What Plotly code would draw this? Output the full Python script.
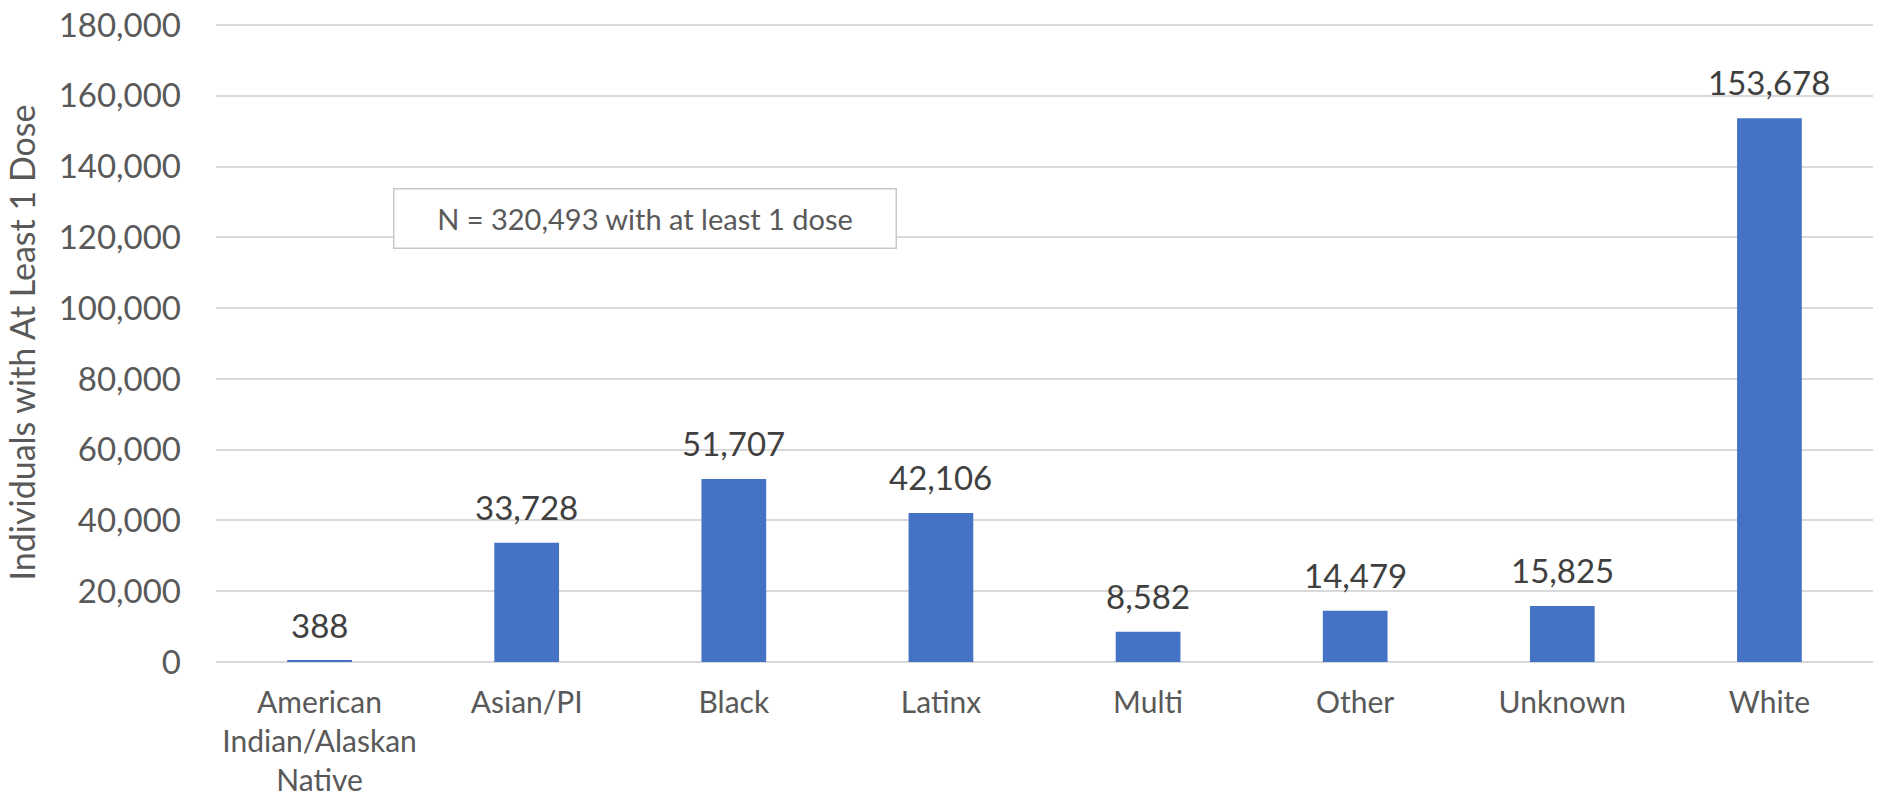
import plotly.graph_objects as go

# ── Data ──────────────────────────────────────────────────────────────────────

categories = [
    "American<br>Indian/Alaskan<br>Native",
    "Asian/PI",
    "Black",
    "Latinx",
    "Multi",
    "Other",
    "Unknown",
    "White",
]
doses = [388, 33728, 51707, 42106, 8582, 14479, 15825, 153678]
y_ticks = [0, 20000, 40000, 60000, 80000, 100000, 120000, 140000, 160000, 180000]
note_text = "N = 320,493 with at least 1 dose"

# ── Theme ─────────────────────────────────────────────────────────────────────

_FONT = "Lato, 'Open Sans', sans-serif"
_BAR = "#4472C4"
_GRID = "#d9d9d9"
_TICK = "#595959"
_LABEL = "#404040"

fig = go.Figure(
    go.Bar(
        x=categories,
        y=doses,
        marker_color=_BAR,
        marker_line_width=0,
        width=0.3125,
        hovertemplate="%{x}: %{y:,}<extra></extra>",
    )
)

# value labels above each bar
for cat, val in zip(categories, doses):
    fig.add_annotation(
        x=cat, y=val, text=f"{val:,}",
        showarrow=False, yanchor="bottom", yshift=14,
        font=dict(family=_FONT, size=33, color=_LABEL),
    )

# boxed note
fig.add_annotation(
    xref="paper", yref="paper", x=0.2589, y=0.6947,
    text=note_text, showarrow=False,
    xanchor="center", yanchor="middle",
    width=501, height=58, borderpad=0,
    bgcolor="white", bordercolor="#c8c8c8", borderwidth=1.5,
    font=dict(family=_FONT, size=29, color=_TICK),
)

fig.update_layout(
    width=1889,
    height=801,
    font=dict(family=_FONT, color=_TICK),
    paper_bgcolor="white",
    plot_bgcolor="white",
    margin=dict(l=216, r=16, t=23, b=139),
    showlegend=False,
    xaxis=dict(
        automargin=False,
        showgrid=False,
        showline=False,
        ticks="",
        tickfont=dict(size=30, color=_TICK),
        ticklabelstandoff=20,
    ),
    yaxis=dict(
        automargin=False,
        range=[0, 180600],   # a hair above 180k so the top gridline is kept
        tickvals=y_ticks,
        tickformat=",d",
        gridcolor=_GRID,
        gridwidth=1.5,
        zeroline=True,
        zerolinecolor=_GRID,
        zerolinewidth=1.5,
        showline=False,
        ticklabeloverflow="allow",
        tickfont=dict(size=33, color=_TICK),
        ticklabelstandoff=34,
        title=dict(
            text="Individuals with At Least 1 Dose",
            font=dict(size=34, color=_TICK),
            standoff=12,
        ),
    ),
)

# drop the default 8px body margin so the figure fills the window exactly
fig.write_html(
    "out.html",
    config={"displayModeBar": False},
    post_script="document.body.style.margin = '0';",
)
